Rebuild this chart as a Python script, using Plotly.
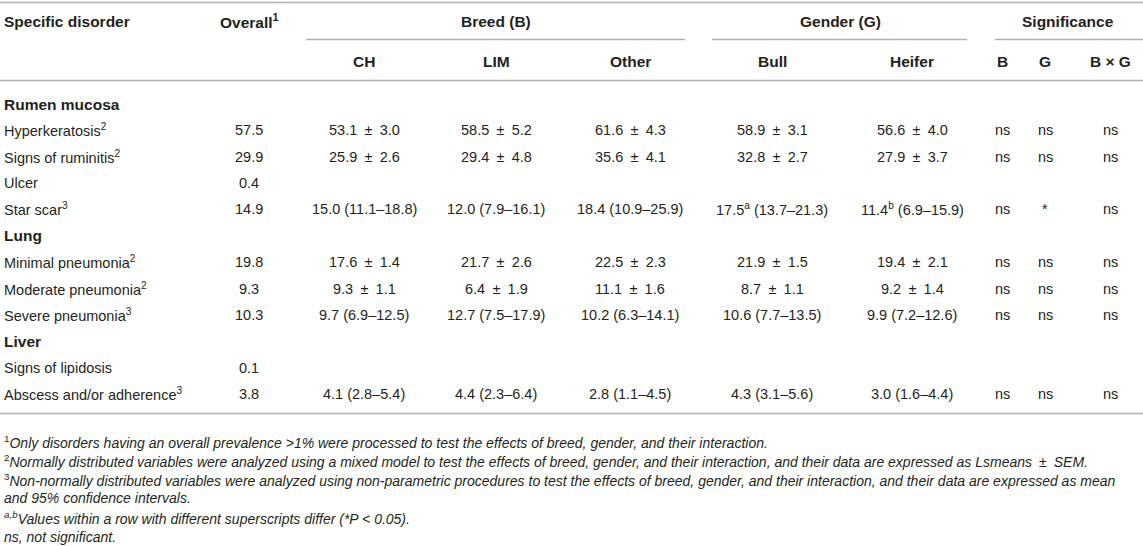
import plotly.graph_objects as go

# ---------------- data ----------------
disorders = ["Rumen mucosa", "Hyperkeratosis<sup>2</sup>", "Signs of ruminitis<sup>2</sup>", "Ulcer",
             "Star scar<sup>3</sup>", "Lung", "Minimal pneumonia<sup>2</sup>", "Moderate pneumonia<sup>2</sup>",
             "Severe pneumonia<sup>3</sup>", "Liver", "Signs of lipidosis", "Abscess and/or adherence<sup>3</sup>"]
is_group = [True, False, False, False, False, True, False, False, False, True, False, False]
overall = ["", "57.5", "29.9", "0.4", "14.9", "", "19.8", "9.3", "10.3", "", "0.1", "3.8"]
breed_ch = ["", "53.1 ± 3.0", "25.9 ± 2.6", "", "15.0 (11.1–18.8)", "", "17.6 ± 1.4", "9.3 ± 1.1",
            "9.7 (6.9–12.5)", "", "", "4.1 (2.8–5.4)"]
breed_lim = ["", "58.5 ± 5.2", "29.4 ± 4.8", "", "12.0 (7.9–16.1)", "", "21.7 ± 2.6", "6.4 ± 1.9",
             "12.7 (7.5–17.9)", "", "", "4.4 (2.3–6.4)"]
breed_other = ["", "61.6 ± 4.3", "35.6 ± 4.1", "", "18.4 (10.9–25.9)", "", "22.5 ± 2.3", "11.1 ± 1.6",
               "10.2 (6.3–14.1)", "", "", "2.8 (1.1–4.5)"]
gender_bull = ["", "58.9 ± 3.1", "32.8 ± 2.7", "", "17.5<sup>a</sup> (13.7–21.3)", "", "21.9 ± 1.5",
               "8.7 ± 1.1", "10.6 (7.7–13.5)", "", "", "4.3 (3.1–5.6)"]
gender_heifer = ["", "56.6 ± 4.0", "27.9 ± 3.7", "", "11.4<sup>b</sup> (6.9–15.9)", "", "19.4 ± 2.1",
                 "9.2 ± 1.4", "9.9 (7.2–12.6)", "", "", "3.0 (1.6–4.4)"]
sig_b = ["", "ns", "ns", "", "ns", "", "ns", "ns", "ns", "", "", "ns"]
sig_g = ["", "ns", "ns", "", "*", "", "ns", "ns", "ns", "", "", "ns"]
sig_bg = ["", "ns", "ns", "", "ns", "", "ns", "ns", "ns", "", "", "ns"]

group_headers = ["Breed (B)", "Gender (G)", "Significance"]
sub_headers = ["CH", "LIM", "Other", "Bull", "Heifer", "B", "G", "B × G"]

footnotes = [
    "<sup>1</sup><i>Only disorders having an overall prevalence >1% were processed to test the effects of breed, gender, and their interaction.</i>",
    "<sup>2</sup><i>Normally distributed variables were analyzed using a mixed model to test the effects of breed, gender, and their interaction, and their data are expressed as Lsmeans ± SEM.</i>",
    "<sup>3</sup><i>Non-normally distributed variables were analyzed using non-parametric procedures to test the effects of breed, gender, and their interaction, and their data are expressed as mean</i>",
    "<i>and 95% confidence intervals.</i>",
    "<sup><i>a,b</i></sup><i>Values within a row with different superscripts differ (*P < 0.05).</i>",
    "<i>ns, not significant.</i>",
]

# ---------------- layout constants ----------------
W, H = 1143, 546
FONT = "Liberation Sans, Arial, Helvetica, sans-serif"
TXT = "#231f20"
LINE = "#b0b0b0"
SIZE = 14.5
BSIZE = 15.5
FSIZE = 14
col_x = [249, 364, 496, 630, 772, 912, 1002, 1045, 1110]
row_y0, row_dy = 104, 26.36
fn_y = [442, 461, 480, 498, 518, 537]

fig = go.Figure()
fig.add_trace(go.Scatter(x=[0, W], y=[0, H], mode="markers", marker=dict(opacity=0), hoverinfo="skip",
                         showlegend=False))

ann = []


def add(x, y, text, anchor="center", bold=False, size=SIZE):
    # typographic spacing around the plus-minus sign, as in the typeset original
    text = text.replace(" ± ", "\u2002±\u2002")
    if bold:
        text = "<b>" + text + "</b>"
    ann.append(dict(x=x, y=y, xref="x", yref="y", text=text, showarrow=False, xanchor=anchor,
                    yanchor="middle", font=dict(family=FONT, size=size, color=TXT)))


# headers
add(2, 21, "Specific disorder", "left", True, BSIZE)
add(249, 21, "Overall<sup>1</sup>", "center", True, BSIZE)
for txt, xc in zip(group_headers, [496, 840, 1068]):
    add(xc, 21, txt, "center", True, BSIZE)
for txt, xc in zip(sub_headers, col_x[1:]):
    add(xc, 61, txt, "center", True, BSIZE)

# body
columns = [overall, breed_ch, breed_lim, breed_other, gender_bull, gender_heifer, sig_b, sig_g, sig_bg]
for i, name in enumerate(disorders):
    y = row_y0 + i * row_dy
    add(2, y, name, "left", is_group[i], BSIZE if is_group[i] else SIZE)
    for col, xc in zip(columns, col_x):
        if col[i]:
            add(xc, y, col[i], "center", False, SIZE)

# footnotes
for t, yy in zip(footnotes, fn_y):
    add(2, yy, t, "left", False, FSIZE)

shapes = []


def hline(x0, x1, y):
    shapes.append(dict(type="line", xref="x", yref="y", x0=x0, x1=x1, y0=y, y1=y,
                       line=dict(color=LINE, width=1.5)))


hline(0, W, 2.5)
hline(306, 685, 39.5)
hline(712, 967, 39.5)
hline(995, W, 39.5)
hline(0, W, 80.5)
hline(0, W, 413.5)

fig.update_layout(
    width=W, height=H, margin=dict(l=0, r=0, t=0, b=0),
    paper_bgcolor="white", plot_bgcolor="white",
    xaxis=dict(range=[0, W], visible=False, fixedrange=True),
    yaxis=dict(range=[H, 0], visible=False, fixedrange=True),
    annotations=ann, shapes=shapes, showlegend=False,
)
fig.write_html("out.html", config={"displayModeBar": False},
               post_script="document.body.style.margin='0';document.body.style.overflow='hidden';")
